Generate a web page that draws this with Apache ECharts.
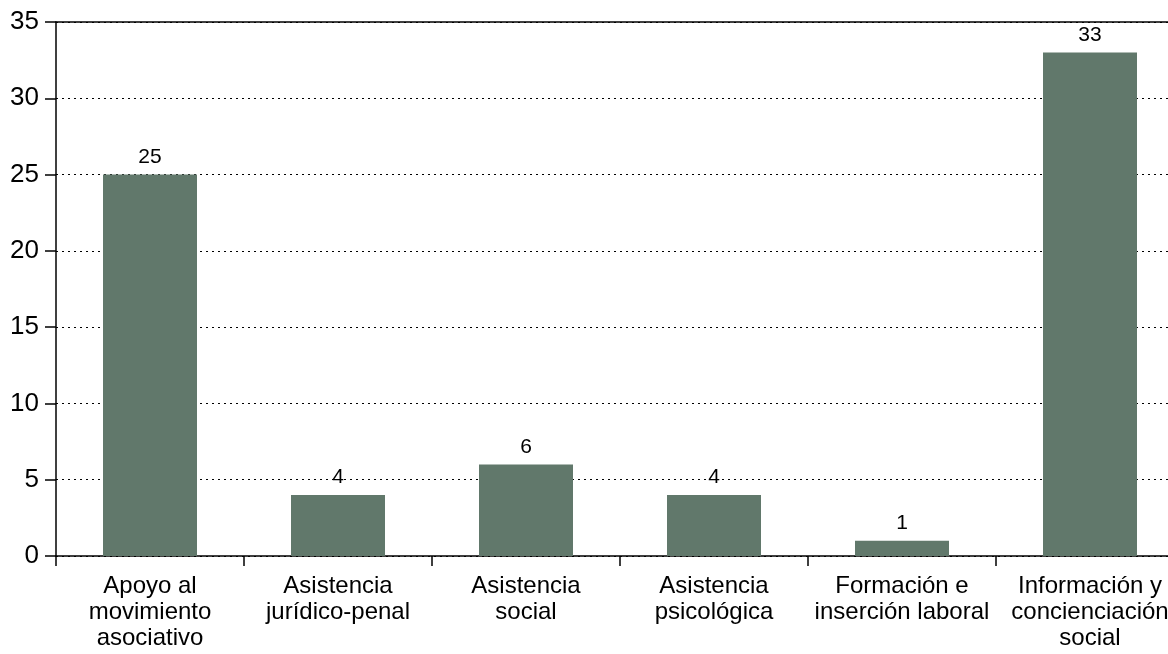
<!DOCTYPE html>
<html><head><meta charset="utf-8">
<script src="https://cdn.jsdelivr.net/npm/echarts@6/dist/echarts.min.js"></script>
<style>html,body{margin:0;padding:0;background:#fff}#c{width:1168px;height:654px}</style>
</head><body><div id="c"></div>
<script>
const categories = ["Apoyo al\nmovimiento\nasociativo","Asistencia\njurídico-penal","Asistencia\nsocial","Asistencia\npsicológica","Formación e\ninserción laboral","Información y\nconcienciación\nsocial"];
const values = [25, 4, 6, 4, 1, 33];
const yTicks = [0, 5, 10, 15, 20, 25, 30, 35];
const font = "'Liberation Sans', Arial, Helvetica, sans-serif";
const chart = echarts.init(document.getElementById('c'));
chart.setOption({
  animation: false,
  grid: {left: 56, top: 22, width: 1128, height: 534, outerBoundsMode: 'none', containLabel: false},
  xAxis: [{
    type: 'category', data: categories,
    axisLine: {lineStyle: {color: '#000', width: 1.5}},
    axisTick: {show: true, length: 10, lineStyle: {color: '#000', width: 1.5}},
    axisLabel: {color: '#000', fontSize: 24, fontFamily: font, lineHeight: 26, margin: 17, interval: 0},
    splitLine: {show: false}
  }, {
    type: 'category', data: categories, position: 'top',
    axisLine: {show: true, lineStyle: {color: '#000', width: 1.5}},
    axisTick: {show: false}, axisLabel: {show: false}
  }],
  yAxis: {
    type: 'value', min: 0, max: 35, interval: 5,
    axisLine: {show: true, lineStyle: {color: '#000', width: 1.5}},
    axisTick: {show: true, length: 11, lineStyle: {color: '#000', width: 1.5}},
    axisLabel: {color: '#000', fontSize: 26, fontFamily: font, margin: 17,
      formatter: v => yTicks.includes(v) ? String(v) : ''},
    splitLine: {show: true, lineStyle: {color: '#000', type: [2, 4], width: 1}}
  },
  series: [{
    type: 'bar', data: values, barWidth: '50%',
    itemStyle: {color: '#61786b'},
    label: {show: true, position: 'top', distance: 7, color: '#000', fontSize: 21, fontFamily: font}
  }]
});
</script></body></html>
